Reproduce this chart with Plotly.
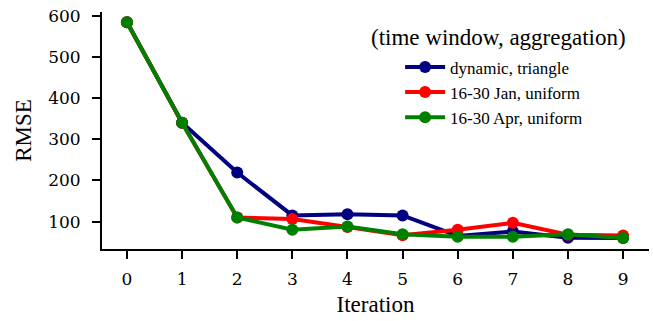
import plotly.graph_objects as go

iterations = [0, 1, 2, 3, 4, 5, 6, 7, 8, 9]
dynamic_triangle = [584, 340, 219, 115, 118, 115, 65, 76, 61, 60]
jan_uniform = [584, 340, 110, 106, 87, 67, 80, 97, 68, 66]
apr_uniform = [584, 340, 110, 80, 88, 69, 63, 63, 69, 60]
y_ticks = [100, 200, 300, 400, 500, 600]

series = [
    ("dynamic, triangle", dynamic_triangle, "#000080"),
    ("16-30 Jan, uniform", jan_uniform, "#ff0000"),
    ("16-30 Apr, uniform", apr_uniform, "#008000"),
]

serif = "'Liberation Serif', 'Times New Roman', serif"
tick_font = "'DejaVu Serif', serif"

fig = go.Figure()
for name, vals, color in series:
    fig.add_trace(go.Scatter(
        x=iterations, y=vals, name=name, mode="lines+markers",
        line=dict(color=color, width=4),
        marker=dict(color=color, size=12),
    ))

fig.update_layout(
    width=653, height=321,
    margin=dict(l=102, r=4, t=12, b=72),
    paper_bgcolor="white", plot_bgcolor="white",
    font=dict(family=serif, color="black", size=17),
    showlegend=True,
    legend=dict(
        x=0.545, y=0.842, xanchor="left", yanchor="top",
        bgcolor="rgba(0,0,0,0)",
        font=dict(size=17, family=serif),
        tracegroupgap=0, itemwidth=40,
    ),
    annotations=[dict(
        text="(time window, aggregation)", xref="paper", yref="paper",
        x=0.724, y=0.893, xanchor="center", yanchor="middle",
        showarrow=False, font=dict(size=23, family=serif),
    )],
)

axis_common = dict(
    showline=True, linecolor="black", linewidth=2,
    ticks="outside", ticklen=8, tickwidth=2, tickcolor="black",
    showgrid=False, zeroline=False, mirror=False,
    tickfont=dict(size=17, family=tick_font),
)

fig.update_xaxes(
    range=[-0.453, 9.47], tickmode="array", tickvals=iterations,
    title=dict(text="Iteration", font=dict(size=23, family=serif), standoff=7),
    ticklabelstandoff=6,
    **axis_common,
)
fig.update_yaxes(
    range=[33.4, 609], tickmode="array", tickvals=y_ticks,
    title=dict(text="RMSE", font=dict(size=23, family=serif), standoff=10),
    ticklabelstandoff=8,
    **axis_common,
)

fig.write_html("out.html")
